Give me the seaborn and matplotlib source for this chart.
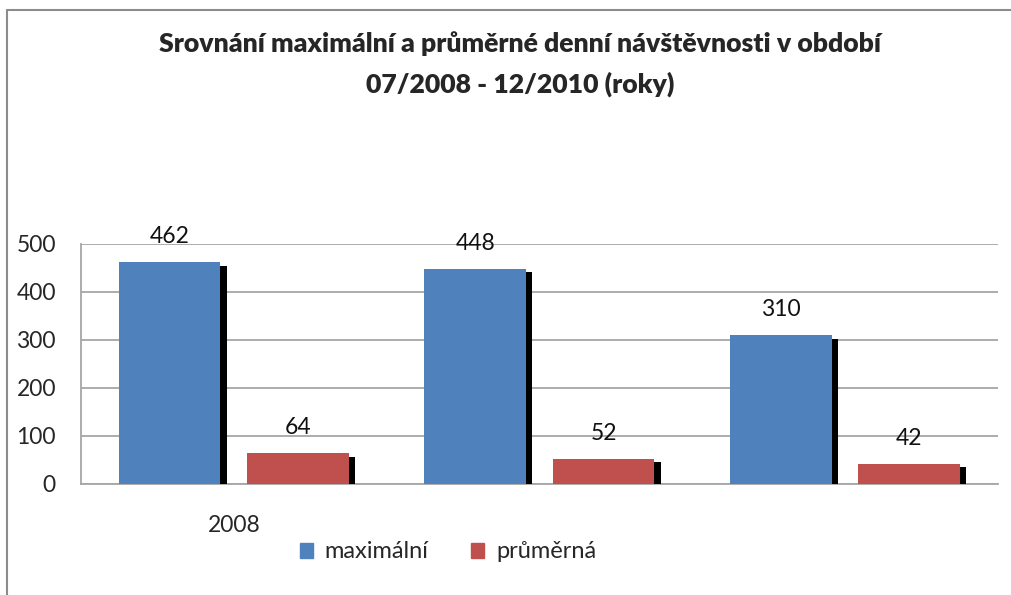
import pandas as pd
import matplotlib
matplotlib.use("Agg")
import matplotlib.pyplot as plt
import matplotlib.patheffects as pe
from matplotlib.lines import Line2D
import seaborn as sns

# data
years = ["2008", "2009", "2010"]
maximalni = [462, 448, 310]
prumerna = [64, 52, 42]
series_names = ["maximální", "průměrná"]
x_tick_labels = ["2008", "", ""]
y_ticks = [0, 100, 200, 300, 400, 500]

df = pd.DataFrame({
    "rok": years * 2,
    "hodnota": maximalni + prumerna,
    "serie": [series_names[0]] * 3 + [series_names[1]] * 3,
})

sns.set_style("white")
plt.rcParams["font.family"] = ["Lato", "DejaVu Sans"]

fig = plt.figure(figsize=(10.12, 5.95), dpi=100)
ax = fig.add_axes([0.080, 0.1866, 0.906, 0.4034])

sns.barplot(
    data=df, x="rok", y="hodnota", hue="serie",
    palette=["#4F81BD", "#C0504D"], saturation=1, width=0.84, gap=0.207,
    ax=ax, legend=False, zorder=3,
)

# black drop shadow on the right side of each bar
for bar in ax.patches:
    bar.set_path_effects([
        pe.SimplePatchShadow(offset=(4.5, -2.5), shadow_rgbFace="black", alpha=1),
        pe.Normal(),
    ])
    bar.set_edgecolor("none")

for cont in ax.containers:
    ax.bar_label(cont, padding=11, fontsize=16.5, color="#111111")

ax.set_ylim(0, 500)
ax.set_xlim(-0.5, 2.5)
ax.set_yticks(y_ticks)
ax.set_xticks(range(len(years)))
ax.set_xticklabels(x_tick_labels, fontsize=16.5)
ax.tick_params(axis="x", length=0, pad=22)
ax.tick_params(axis="y", labelsize=16.5, length=4, color="#a0a0a0", direction="out", pad=14)
ax.set_xlabel("")
ax.set_ylabel("")
ax.yaxis.grid(True, color="#a6a6a6", linewidth=1.3, zorder=0)
ax.set_axisbelow(True)
for s in ["top", "right"]:
    ax.spines[s].set_visible(False)
for s in ["left", "bottom"]:
    ax.spines[s].set_color("#a6a6a6")
    ax.spines[s].set_linewidth(1.3)

fig.text(0.514, 1 - 44 / 595, "Srovnání maximální a průměrné denní návštěvnosti v období",
         ha="center", va="center", fontsize=19.2, fontweight="heavy")
fig.text(0.514, 1 - 84 / 595, "07/2008 - 12/2010 (roky)",
         ha="center", va="center", fontsize=19.2, fontweight="heavy")

handles = [plt.Rectangle((0, 0), 1, 1, color=c) for c in ["#4F81BD", "#C0504D"]]
fig.legend(handles, series_names, loc="center", bbox_to_anchor=(448 / 1012, 1 - 552 / 595),
           ncol=2, frameon=False, fontsize=17, handlelength=0.55, handleheight=0.6,
           handletextpad=0.5, columnspacing=1.8)

# chart frame
fig.add_artist(Line2D([7 / 1012, 1], [1 - 10 / 595, 1 - 10 / 595], color="#8c8c8c", linewidth=1.5))
fig.add_artist(Line2D([7 / 1012, 7 / 1012], [0, 1 - 10 / 595], color="#8c8c8c", linewidth=1.5))

fig.savefig("out.png", dpi=100)
